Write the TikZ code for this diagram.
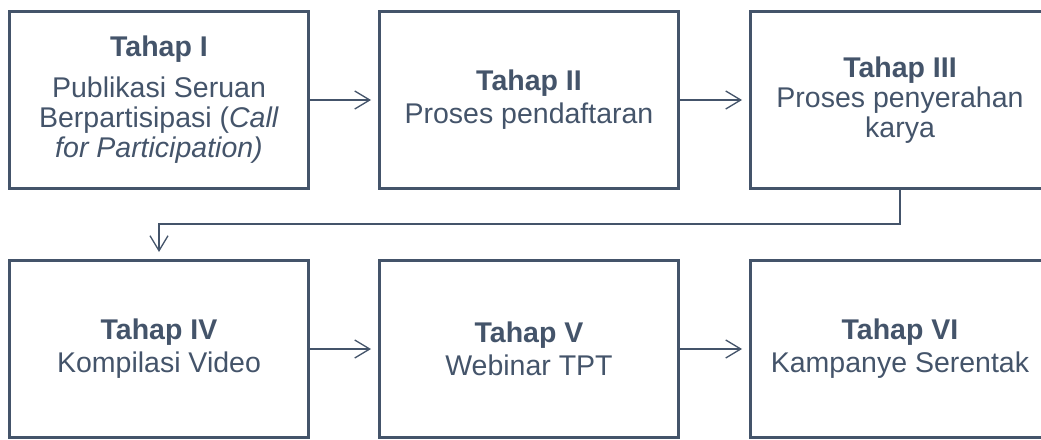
\documentclass[tikz,border=0pt]{standalone}
\usepackage{fontspec}
\setmainfont{Liberation Sans}
\usetikzlibrary{arrows.meta}
\definecolor{slate}{HTML}{44546A}
\begin{document}
\begin{tikzpicture}[x=1pt,y=-1pt,
  stage/.style={draw=slate, line width=2.6pt, minimum width=299.4pt,
    minimum height=177.4pt, inner sep=0pt, align=center, text=slate,
    font=\fontsize{28.5}{30}\selectfont},
  flow/.style={draw=slate, line width=1.3pt,
    -{Straight Barb[length=15pt,width=18pt]}, shorten >=7pt}]
  \useasboundingbox (0,0) rectangle (1041,439);
  \clip (0,0) rectangle (1041,439);

  % first row
  \node[stage] (s1) at (159,100)
    {\textbf{Tahap I}\\[11pt]Publikasi Seruan\\Berpartisipasi (\textit{Call}\\\textit{for Participation)}};
  \node[stage] (s2) at (529,100)
    {\textbf{Tahap II}\\[3pt]Proses pendaftaran};
  \node[stage] (s3) at (900,100)
    {\textbf{Tahap III}\\Proses penyerahan\\karya};

  % second row
  \node[stage] (s4) at (159,349)
    {\textbf{Tahap IV}\\[3pt]Kompilasi Video};
  \node[stage] (s5) at (529,349)
    {\textbf{Tahap V}\\[3pt]Webinar TPT};
  \node[stage] (s6) at (900,349)
    {\textbf{Tahap VI}\\[3pt]Kampanye Serentak};

  % connectors
  \draw[flow] (s1.east) -- (s2.west);
  \draw[flow] (s2.east) -- (s3.west);
  \draw[flow] (s3.south) -- ++(0,34) -| (s4.north);
  \draw[flow] (s4.east) -- (s5.west);
  \draw[flow] (s5.east) -- (s6.west);
\end{tikzpicture}
\end{document}
